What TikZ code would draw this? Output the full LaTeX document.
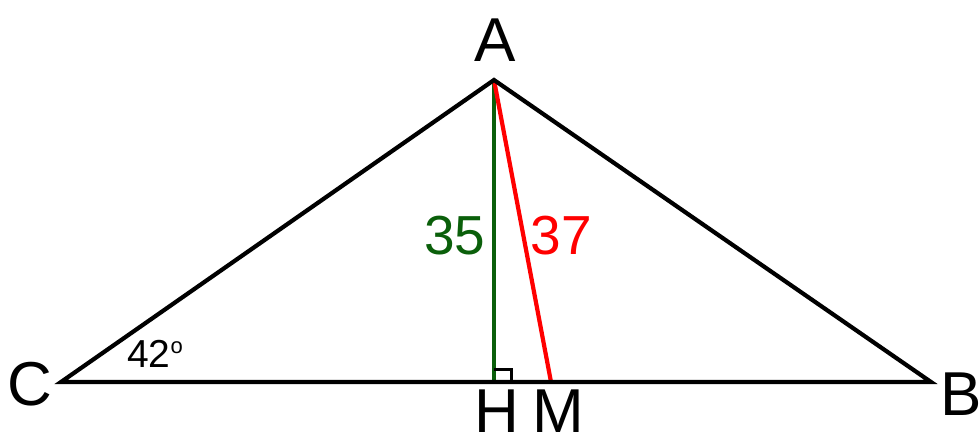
\documentclass[tikz,border=0pt]{standalone}
\usepackage{fontspec}
\setmainfont{Liberation Sans}
\definecolor{dgreen}{RGB}{10,95,10}
\definecolor{lred}{RGB}{255,0,0}
\begin{document}
\begin{tikzpicture}[x=1pt,y=-1pt,
  edge/.style={line width=4.2pt,line join=miter},
  lbl/.style={inner sep=0pt,font=\fontsize{62}{62}\selectfont},
  num/.style={inner sep=0pt,font=\fontsize{55}{55}\selectfont}]
\useasboundingbox (0,0) rectangle (979,437);
\coordinate (A) at (494,80);
\coordinate (C) at (61,382);
\coordinate (B) at (931,382);
\coordinate (H) at (494,382);
\coordinate (M) at (551,382);
\draw[dgreen,edge] (A) -- (H);
\draw[lred,edge] (A) -- (M);
\draw[edge] (B) -- (A) -- (C) -- cycle;
\draw[line width=3pt] (494,369) -- (511,369) -- (511,382);
\node[lbl] (lA) at (495,40) {A};
\node[lbl] (lC) at (30,384) {C};
\node[lbl] (lB) at (961,394) {B};
\node[lbl] (lH) at (497,411) {H};
\node[lbl] (lM) at (558,411) {M};
\node[num,text=dgreen] (l35) at (455,236) {35};
\node[num,text=lred] (l37) at (561,236) {37};
\node[inner sep=0pt,font=\fontsize{39}{39}\selectfont] (l42) at (155,354) {42\raisebox{0.35em}{\fontsize{22}{22}\selectfont o}};
\end{tikzpicture}
\end{document}
